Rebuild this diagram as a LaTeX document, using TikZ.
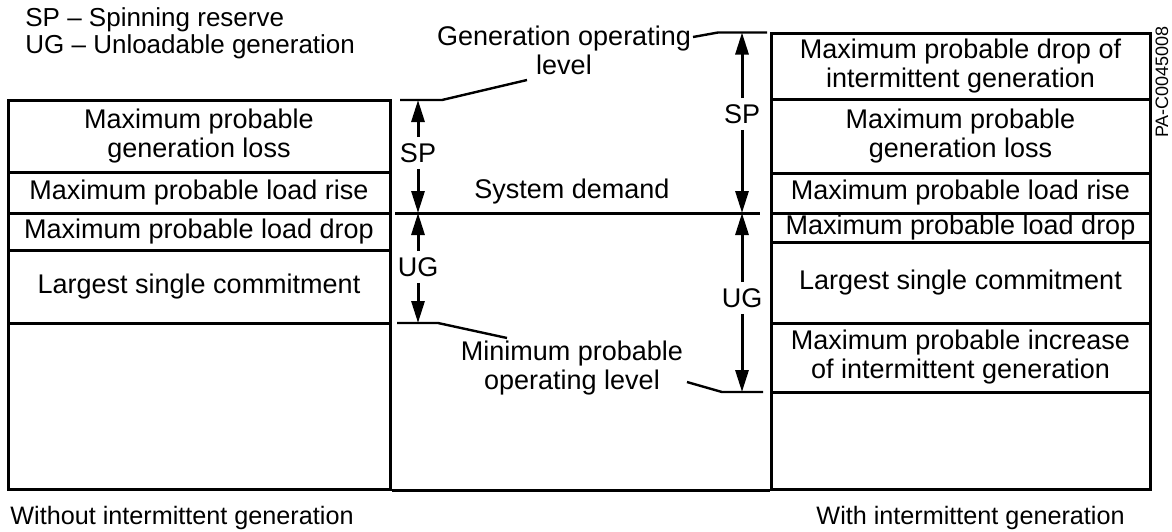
\documentclass[tikz,border=0pt]{standalone}
\usepackage{fontspec}
\setmainfont{Liberation Sans}
\usetikzlibrary{arrows.meta}
\begin{document}
\begin{tikzpicture}[x=0.5pt,y=-0.5pt,
  cellL/.style={draw, line width=1.5pt, inner sep=0pt, minimum width=191pt, align=center,
    font=\fontsize{13.5}{14.5}\selectfont},
  cellR/.style={cellL, minimum width=189.5pt},
  lbl/.style={align=center, inner sep=0pt, font=\fontsize{13.5}{14.5}\selectfont},
  tag/.style={inner sep=3pt, font=\fontsize{13.5}{14.5}\selectfont},
  small/.style={inner sep=0pt, font=\fontsize{13}{14}\selectfont},
  caption/.style={inner sep=0pt, font=\fontsize{12.6}{14}\selectfont},
  arr/.style={line width=1.5pt, -{Triangle[length=11pt,width=6.5pt]}},
  lead/.style={line width=1.2pt},
  rule/.style={line width=1.5pt}
]
\useasboundingbox (0,0) rectangle (1172,531);

% legend
\node[small, anchor=west] (leg1) at (25,20) {SP – Spinning reserve};
\node[small, anchor=west] (leg2) at (25,47) {UG – Unloadable generation};

% left column
\node[cellL, minimum height=36pt]   (l1) at (199,136)   {Maximum probable\\generation loss};
\node[cellL, minimum height=20.5pt] (l2) at (199,192.5) {Maximum probable load rise};
\node[cellL, minimum height=18.5pt] (l3) at (199,231.5) {Maximum probable load drop};
\node[cellL, minimum height=36.5pt] (l4) at (199,286.5) {Largest single commitment};
\node[cellL, minimum height=83pt]   (l5) at (199,406)   {};

% right column
\node[cellR, minimum height=33pt]   (r1) at (960.5,66)    {Maximum probable drop of\\intermittent generation};
\node[cellR, minimum height=37pt]   (r2) at (960.5,136)   {Maximum probable\\generation loss};
\node[cellR, minimum height=20pt]   (r3) at (960.5,193)   {Maximum probable load rise};
\node[cellR, minimum height=14.5pt] (r4) at (960.5,227.5) {Maximum probable load drop};
\node[cellR, minimum height=40.5pt] (r5) at (960.5,282.5) {Largest single commitment};
\node[cellR, minimum height=34.5pt] (r6) at (960.5,357.5) {Maximum probable increase\\of intermittent generation};
\node[cellR, minimum height=48.5pt] (r7) at (960.5,440.5) {};

% bottom line of the middle part
\draw[rule] (l5.south east) -- (r7.south west);

% system demand
\coordinate (sdA) at (395,213);
\coordinate (sdB) at (760,213);
\draw[rule] (sdA) -- (sdB);
\node[lbl] (sd) at (572,192) {System demand};

% middle labels
\node[lbl] (gol) at (564,50) {Generation operating\\level};
\node[lbl] (mol) at (572,368) {Minimum probable\\operating level};

% leader lines
\coordinate (lgA) at (400,100); \coordinate (lgB) at (442,100); \coordinate (lgC) at (527,80);
\draw[lead] (lgA) -- (lgB) -- (lgC);
\coordinate (rgA) at (693,37); \coordinate (rgB) at (718,32.5); \coordinate (rgC) at (767,32.5);
\draw[lead] (rgA) -- (rgB) -- (rgC);
\coordinate (lmA) at (397,323); \coordinate (lmB) at (438,323); \coordinate (lmC) at (507,338);
\draw[lead] (lmA) -- (lmB) -- (lmC);
\coordinate (rmA) at (687,382); \coordinate (rmB) at (722,392); \coordinate (rmC) at (763,392);
\draw[lead] (rmA) -- (rmB) -- (rmC);

% left arrows
\coordinate (lt) at (418,100);
\coordinate (lm) at (418,213);
\coordinate (lb) at (418,323);
\node[tag] (lsp) at (418,153) {SP};
\node[tag] (lug) at (418,267) {UG};
\draw[arr] (lsp.north) -- (lt);
\draw[arr] (lsp.south) -- (lm);
\draw[arr] (lug.north) -- (lm);
\draw[arr] (lug.south) -- (lb);

% right arrows
\coordinate (rt) at (742,32.5);
\coordinate (rm) at (742,213);
\coordinate (rb) at (742,392);
\node[tag] (rsp) at (742,114) {SP};
\node[tag] (rug) at (742,298) {UG};
\draw[arr] (rsp.north) -- (rt);
\draw[arr] (rsp.south) -- (rm);
\draw[arr] (rug.north) -- (rm);
\draw[arr] (rug.south) -- (rb);

% captions
\node[caption, anchor=west] (capL) at (10,518) {Without intermittent generation};
\node[caption, anchor=east] (capR) at (1125,518) {With intermittent generation};

% figure id
\node[rotate=90, inner sep=0pt, font=\fontsize{9}{10}\selectfont] (pa) at (1162,82) {PA-C0045008};
\end{tikzpicture}
\end{document}
